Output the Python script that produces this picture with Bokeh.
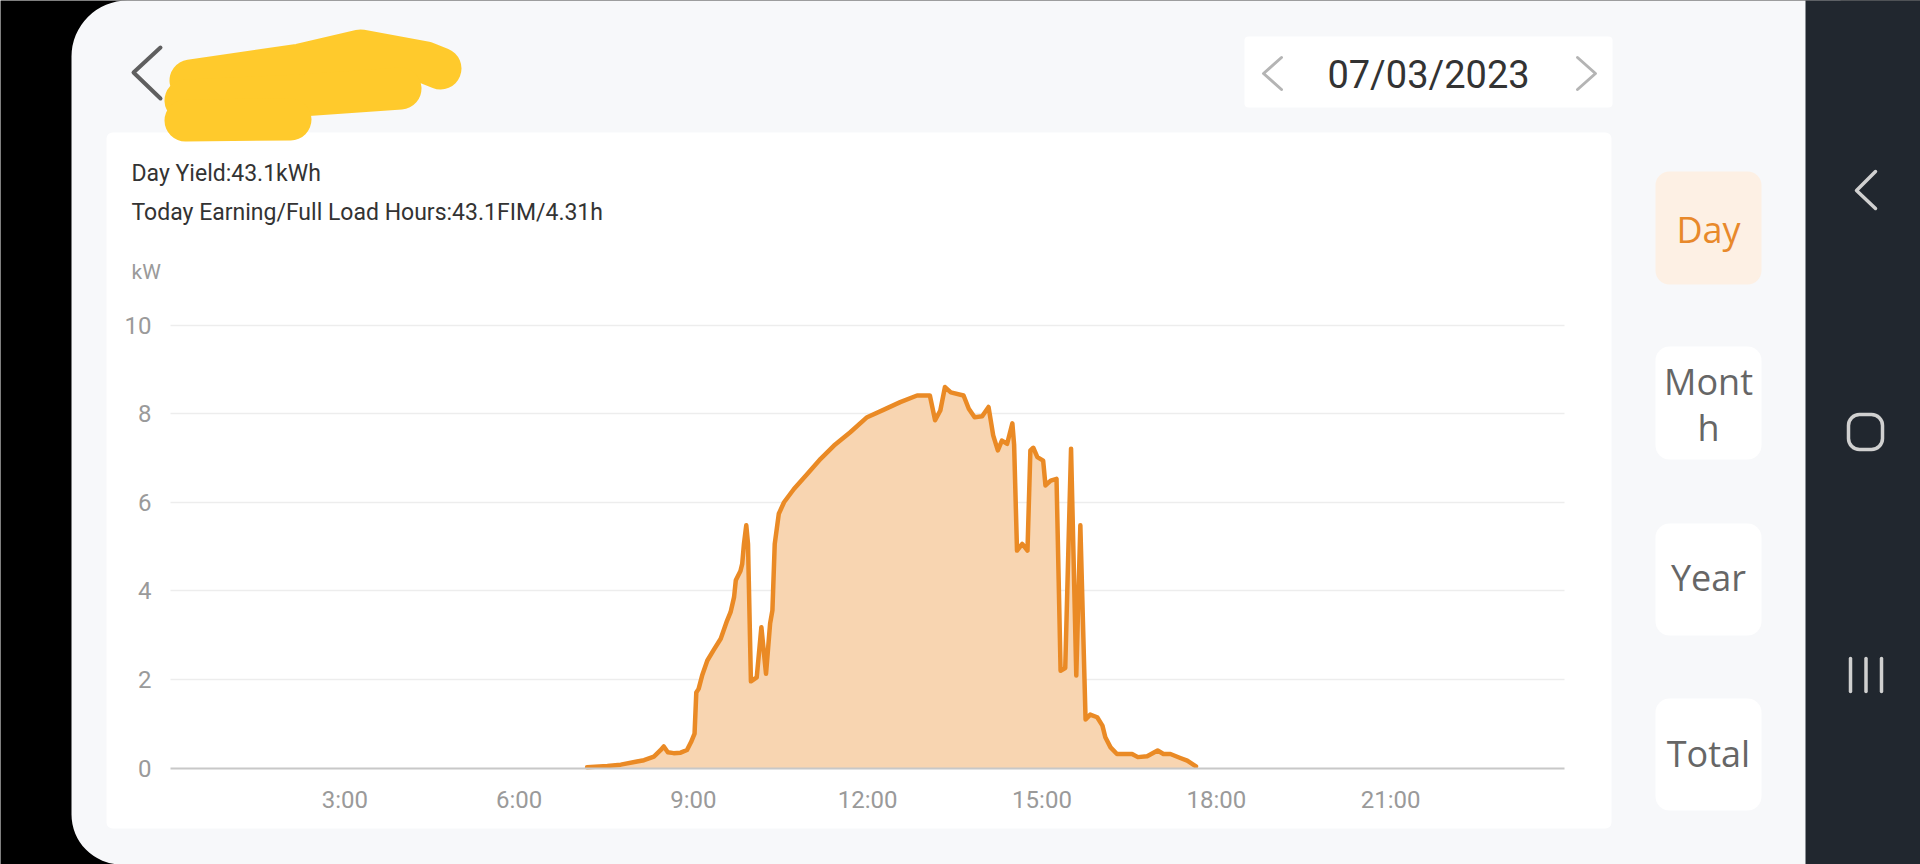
from bokeh.plotting import figure
from bokeh.models import Range1d, LinearAxis, FixedTicker, Grid
from bokeh.core.properties import value
from bokeh.embed import file_html
from bokeh.resources import INLINE

# ---------------- data ----------------
hours = [7.17, 7.52, 7.75, 8.03, 8.15, 8.32, 8.43, 8.49, 8.56, 8.66, 8.78, 8.89,
         8.96, 9.02, 9.05, 9.09, 9.15, 9.24, 9.35, 9.47, 9.58, 9.64, 9.70, 9.73,
         9.81, 9.84, 9.87, 9.91, 9.94, 9.99, 10.09, 10.17, 10.25, 10.32, 10.36,
         10.40, 10.47, 10.56, 10.73, 10.96, 11.19, 11.42, 11.70, 11.99, 12.28,
         12.56, 12.85, 13.07, 13.16, 13.25, 13.33, 13.43, 13.65, 13.74, 13.84,
         13.97, 14.08, 14.16, 14.24, 14.31, 14.40, 14.49, 14.52, 14.57, 14.66,
         14.75, 14.80, 14.85, 14.92, 15.02, 15.06, 15.15, 15.25, 15.32, 15.40,
         15.50, 15.59, 15.66, 15.75, 15.83, 15.95, 16.04, 16.09, 16.18, 16.29,
         16.55, 16.65, 16.81, 16.99, 17.09, 17.21, 17.38, 17.50, 17.65]
power_kw = [0.02, 0.05, 0.08, 0.15, 0.18, 0.26, 0.40, 0.49, 0.36, 0.34, 0.35, 0.41,
            0.59, 0.78, 1.71, 1.79, 2.09, 2.43, 2.67, 2.92, 3.33, 3.52, 3.86, 4.24,
            4.45, 4.61, 5.06, 5.48, 5.06, 1.96, 2.05, 3.18, 2.13, 3.26, 3.56,
            5.06, 5.74, 6.00, 6.30, 6.64, 6.98, 7.28, 7.58, 7.92, 8.09,
            8.26, 8.41, 8.41, 7.85, 8.07, 8.60, 8.48, 8.41, 8.11, 7.92,
            7.94, 8.15, 7.51, 7.17, 7.39, 7.32, 7.78, 7.30, 4.91, 5.06,
            4.91, 7.17, 7.23, 7.02, 6.94, 6.38, 6.49, 6.53, 2.20, 2.26,
            7.21, 2.09, 5.48, 1.10, 1.21, 1.15, 0.96, 0.70, 0.47, 0.32,
            0.32, 0.25, 0.27, 0.40, 0.32, 0.32, 0.23, 0.17, 0.04]

x_ticks = [3, 6, 9, 12, 15, 18, 21]
x_tick_labels = ["3:00", "6:00", "9:00", "12:00", "15:00", "18:00", "21:00"]
y_ticks = [0, 2, 4, 6, 8, 10]
y_unit = "kW"
info_lines = ["Day Yield:43.1kWh", "Today Earning/Full Load Hours:43.1FIM/4.31h"]
date_label = "07/03/2023"
period_labels = ["Day", "Mont", "h", "Year", "Total"]

# ---------------- geometry (screen pixels of the page) ----------------
W, H = 1920, 864
OX, OY = 0, 0
X0, PXH = 170.0, 58.1      # pixel of 0:00, pixels per hour
Y0, PXK = 767.7, 44.32     # pixel of 0 kW, pixels per kW

p = figure(width=W, height=H, output_backend="svg", toolbar_location=None,
           x_range=Range1d((OX - X0) / PXH, (OX + W - X0) / PXH),
           y_range=Range1d((Y0 - (OY + H)) / PXK, (Y0 - OY) / PXK),
           x_axis_location=None, y_axis_location=None,
           min_border=0, outline_line_color=None,
           background_fill_color="#000000", border_fill_color="#000000")
p.grid.visible = False
p.extra_x_ranges = {"px": Range1d(OX, OX + W)}
p.extra_y_ranges = {"px": Range1d(OY + H, OY)}

PX = dict(x_range_name="px", y_range_name="px")
FONT = value("Roboto")


def box(l, r, t, b, fill, radius=0, line_color=None, line_width=1):
    p.quad(left=[l], right=[r], top=[t], bottom=[b], fill_color=fill,
           line_color=line_color, line_width=line_width,
           border_radius=radius, level="image", **PX)


# app backgrounds
box(71, 1840, 0, 864, "#f7f8fa", radius=(56, 0, 0, 50))
box(1805, 1925, -5, 870, "#21272f")
box(106, 1611, 132, 828, "#ffffff", radius=6)
box(1244, 1612, 36, 107, "#ffffff", radius=4)

# period buttons
box(1655, 1761, 171, 284, "#fdf0e4", radius=14)
box(1655, 1761, 346, 459, "#ffffff", radius=14)
box(1655, 1761, 523, 635, "#ffffff", radius=14)
box(1655, 1761, 698, 810, "#ffffff", radius=14)

# redaction scribble
p.multi_line(xs=[[190, 300, 360, 425, 440], [185, 300, 400], [185, 290]],
             ys=[[80, 64, 50, 62, 68], [100, 95, 88], [120, 119]],
             line_color="#ffca2c", line_width=42, line_cap="round",
             line_join="round", level="image", **PX)

# chevrons / nav icons
p.multi_line(xs=[[160, 133, 160], [1281, 1263, 1281], [1577, 1595, 1577],
                 [1875, 1856, 1875]],
             ys=[[47, 72, 98], [57, 73, 89], [57, 73, 89], [171, 190, 208]],
             line_color=["#5f5f5f", "#b4b4b4", "#b4b4b4", "#d0d0d0"],
             line_width=[4, 3, 3, 3.5], line_cap="round", line_join="round",
             level="image", **PX)
p.quad(left=[1848], right=[1882], top=[414], bottom=[449], fill_color=None,
       line_color="#d0d0d0", line_width=3.5, border_radius=11, level="image", **PX)
p.multi_line(xs=[[1850, 1850], [1865.5, 1865.5], [1881, 1881]],
             ys=[[658, 691], [658, 691], [658, 691]],
             line_color="#d0d0d0", line_width=3.5, line_cap="round",
             level="image", **PX)

# texts
p.text(x=[131, 131], y=[173, 212], text=info_lines, text_font=FONT,
       text_font_size="23px", text_color="#333333", text_baseline="middle",
       text_align="left", **PX)
p.text(x=[131], y=[271], text=[y_unit], text_font=FONT, text_font_size="21px",
       text_color="#9a9a9a", text_baseline="middle", text_align="left", **PX)
p.text(x=[1428], y=[74], text=[date_label], text_font=FONT, text_font_size="38px",
       text_color="#333333", text_baseline="middle", text_align="center", **PX)
p.text(x=[1708] * 5, y=[229, 381, 427, 577, 753], text=period_labels,
       text_font=value("Open Sans"), text_font_size="36px",
       text_color=["#e8892b", "#666666", "#666666", "#666666", "#666666"],
       text_baseline="middle", text_align="center", **PX)

# grid lines (kW)
grid = Grid(dimension=1, ticker=FixedTicker(ticks=[t for t in y_ticks if t > 0]),
            grid_line_color="#ededed", grid_line_width=1.5)
try:
    grid.cross_bounds = (0, 24)
except Exception:
    pass
p.add_layout(grid, "center")

# data
p.varea(x=hours, y1=[0] * len(hours), y2=power_kw, fill_color="#f8d5b1")
p.line(x=hours, y=power_kw, line_color="#ea8a25", line_width=4.5,
       line_join="round", line_cap="round")

# axes (drawn inside the frame at fixed locations)
xaxis = LinearAxis(ticker=FixedTicker(ticks=x_ticks),
                   major_label_overrides={t: l for t, l in zip(x_ticks, x_tick_labels)},
                   fixed_location=0, bounds=(0, 24),
                   axis_line_color="#c8c8c8", axis_line_width=2,
                   major_tick_line_color=None, minor_tick_line_color=None,
                   major_label_text_font="Roboto", major_label_text_font_size="24px",
                   major_label_text_color="#9a9a9a", major_label_standoff=12)
p.add_layout(xaxis, "below")
yaxis = LinearAxis(ticker=FixedTicker(ticks=y_ticks), fixed_location=0,
                   axis_line_color=None, major_tick_line_color=None,
                   minor_tick_line_color=None,
                   major_label_text_font="Roboto", major_label_text_font_size="24px",
                   major_label_text_color="#9a9a9a", major_label_standoff=13)
p.add_layout(yaxis, "left")

open("out.html", "w").write(file_html(p, INLINE))
